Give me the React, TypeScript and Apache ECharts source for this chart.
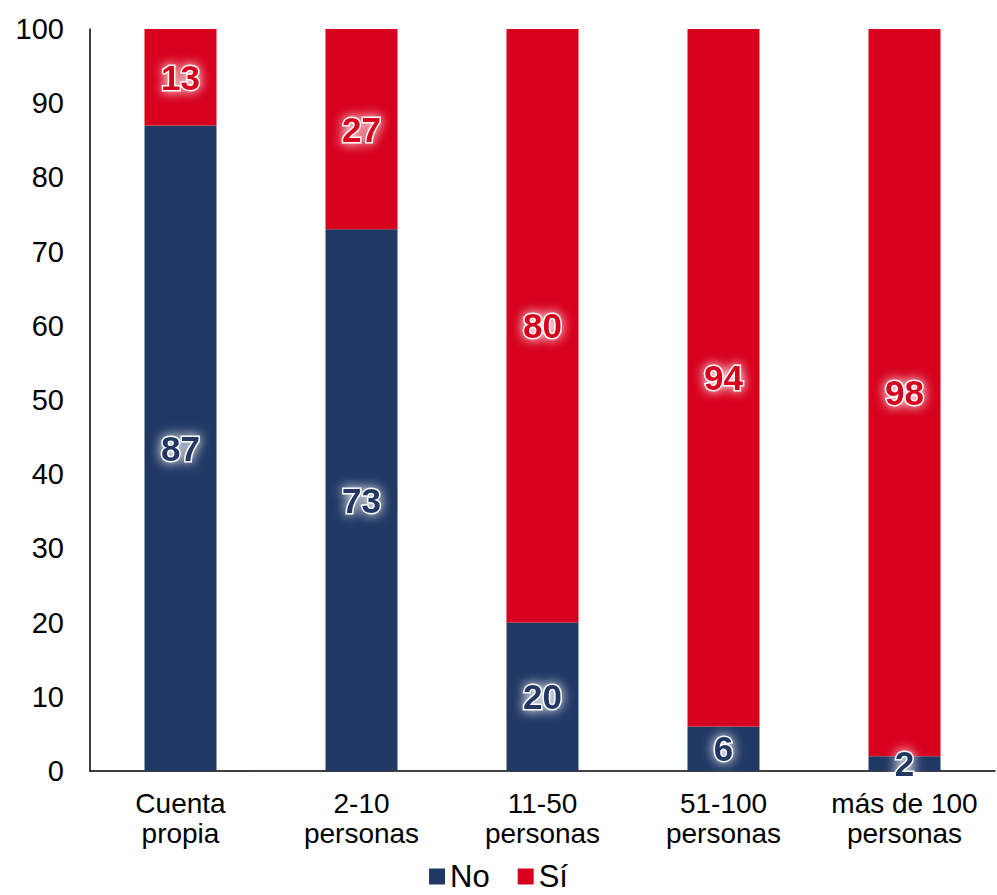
import React, { useEffect, useRef } from "react";
import * as echarts from "echarts";

const categories = ["Cuenta\npropia", "2-10\npersonas", "11-50\npersonas", "51-100\npersonas", "más de 100\npersonas"];
const noValues = [87, 73, 20, 6, 2];
const siValues = [13, 27, 80, 94, 98];
const seriesNames = ["No", "Sí"];

const NAVY = "#203864";
const RED = "#D7001D";
const FONT = "'Liberation Sans', Arial, Helvetica, sans-serif";

function glowLabel(color: string) {
  return {
    show: true,
    position: "inside",
    color,
    fontFamily: FONT,
    fontWeight: "bold",
    fontSize: 35,
    textBorderColor: "rgba(255,255,255,0.95)",
    textBorderWidth: 3,
    textShadowColor: "#ffffff",
    textShadowBlur: 12,
  };
}

export default function App() {
  const ref = useRef<HTMLDivElement>(null);

  useEffect(() => {
    if (!ref.current) return;
    const chart = echarts.init(ref.current, null, { renderer: "svg" });
    chart.setOption({
      animation: false,
      backgroundColor: "#ffffff",
      grid: { left: 90, top: 29, right: 2, bottom: 124, containLabel: false },
      legend: {
        data: seriesNames,
        bottom: 3,
        padding: 0,
        left: "center",
        itemWidth: 16,
        itemHeight: 16,
        itemGap: 28,
        icon: "rect",
        textStyle: { fontFamily: FONT, fontSize: 31, lineHeight: 30, color: "#000" },
      },
      xAxis: {
        type: "category",
        data: categories,
        axisLine: { lineStyle: { color: "#000", width: 1.5 } },
        axisTick: { show: false },
        axisLabel: {
          fontFamily: FONT,
          fontSize: 28,
          color: "#000",
          lineHeight: 30,
          margin: 17,
          interval: 0,
        },
      },
      yAxis: {
        type: "value",
        min: 0,
        max: 100,
        interval: 10,
        axisLine: { show: true, lineStyle: { color: "#000", width: 1.5 } },
        axisTick: { show: false },
        splitLine: { show: false },
        axisLabel: { fontFamily: FONT, fontSize: 29, color: "#000", margin: 26 },
      },
      series: [
        {
          name: seriesNames[0],
          type: "bar",
          stack: "total",
          barWidth: 72,
          data: noValues,
          itemStyle: { color: NAVY },
          label: glowLabel(NAVY),
        },
        {
          name: seriesNames[1],
          type: "bar",
          stack: "total",
          barWidth: 72,
          data: siValues,
          itemStyle: { color: RED },
          label: glowLabel(RED),
        },
      ],
    });
    return () => chart.dispose();
  }, []);

  return (
    <div
      ref={ref}
      style={{ position: "absolute", left: 0, top: 0, width: 997, height: 895 }}
    />
  );
}
